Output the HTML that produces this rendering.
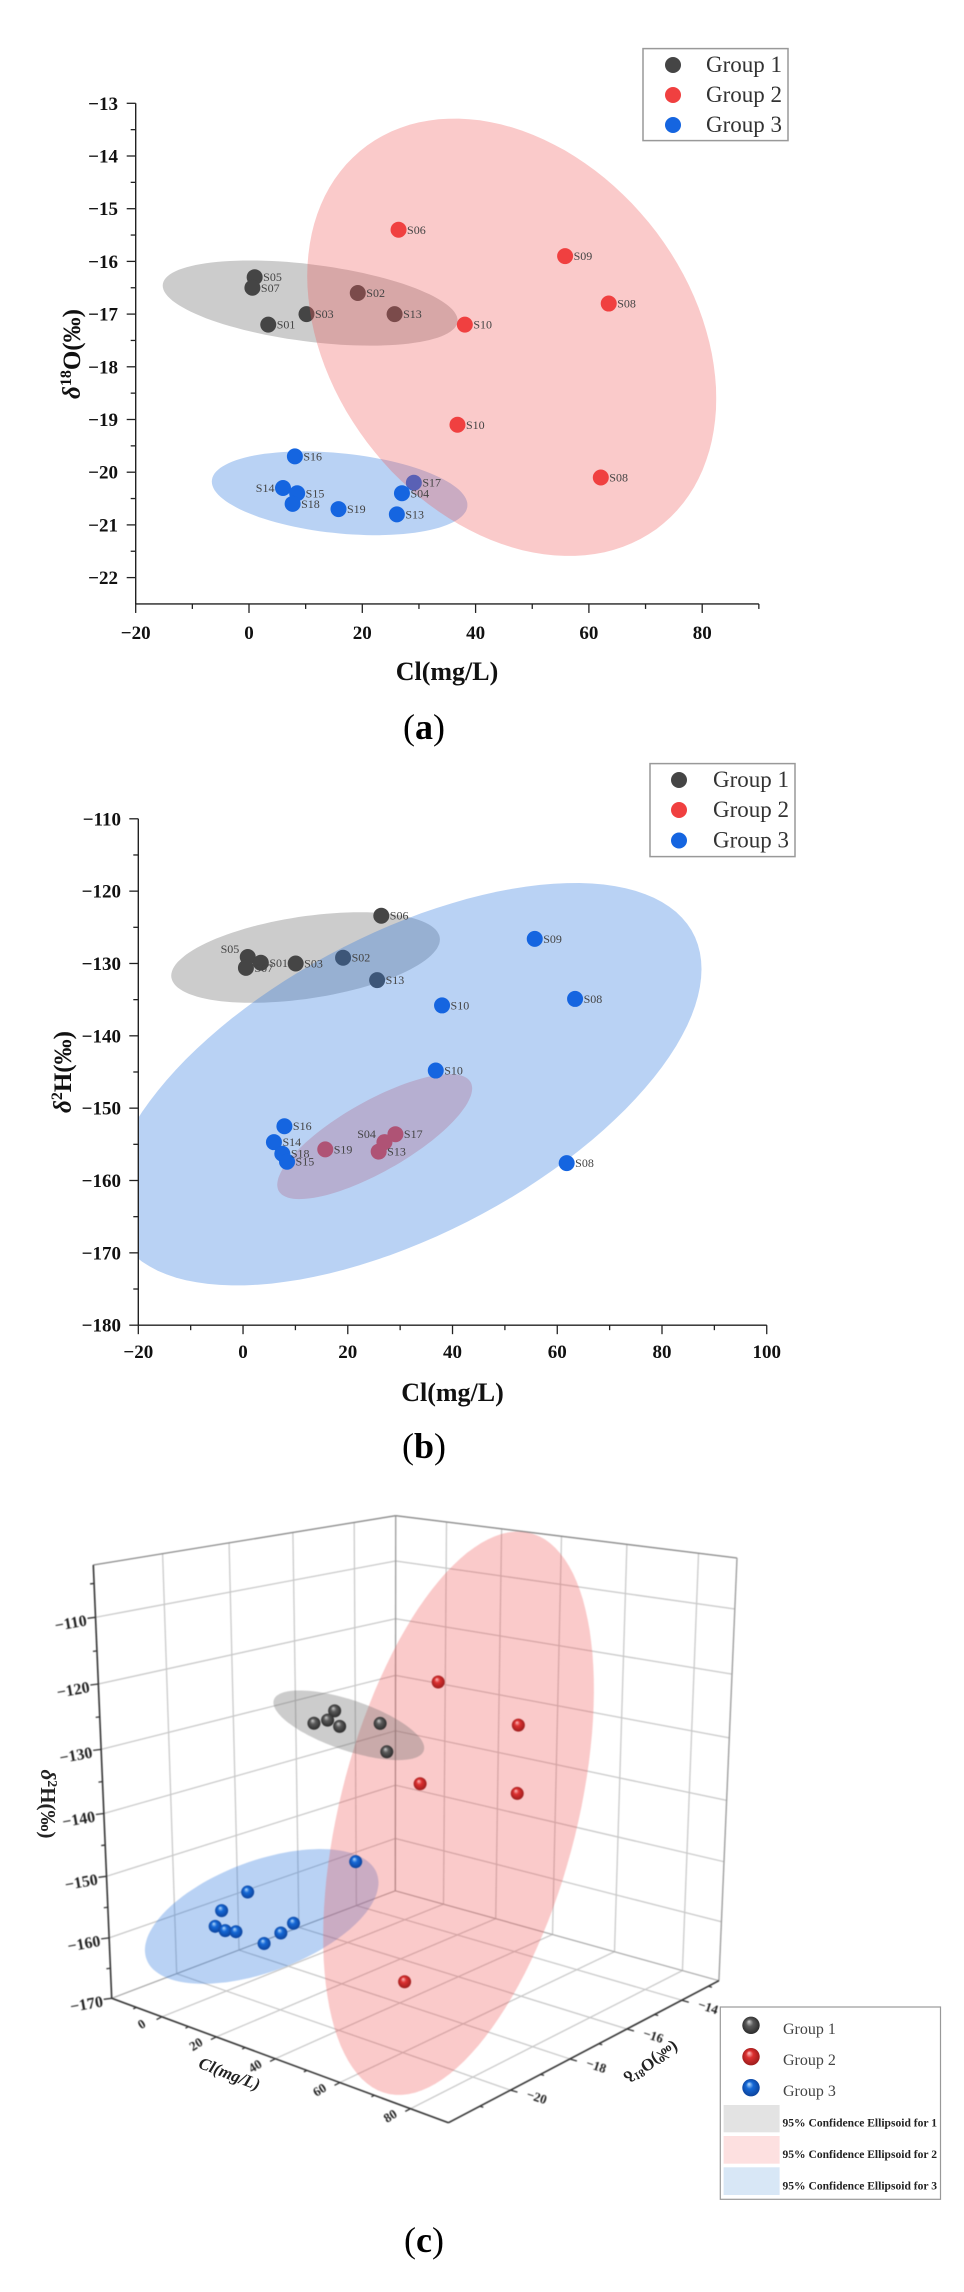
<!DOCTYPE html>
<html lang="en">
<head>
<meta charset="utf-8">
<title>Isotope scatter charts with confidence ellipses</title>
<style>
html,body{margin:0;padding:0;background:#fff;}
svg{display:block;font-family:"Liberation Serif","DejaVu Serif",serif;}
#panel-c{filter:blur(0.4px);}
</style>
</head>
<body>
<svg id="figure" xmlns="http://www.w3.org/2000/svg" width="964" height="2292" viewBox="0 0 964 2292">
  <defs>
    <clipPath id="clip-b"><rect x="138.3" y="790" width="640" height="535"/></clipPath>
    <radialGradient id="sphere-grey" cx="50%" cy="50%" r="55%" fx="38%" fy="28%">
      <stop offset="0" stop-color="#d0d0d0"/><stop offset="0.38" stop-color="#5a5a5a"/><stop offset="1" stop-color="#262626"/>
    </radialGradient>
    <radialGradient id="sphere-red" cx="50%" cy="50%" r="55%" fx="38%" fy="28%">
      <stop offset="0" stop-color="#ffc4c4"/><stop offset="0.38" stop-color="#dc3030"/><stop offset="1" stop-color="#961a1a"/>
    </radialGradient>
    <radialGradient id="sphere-blue" cx="50%" cy="50%" r="55%" fx="38%" fy="28%">
      <stop offset="0" stop-color="#bce0ff"/><stop offset="0.38" stop-color="#1568d6"/><stop offset="1" stop-color="#0b3f96"/>
    </radialGradient>
  </defs>

  <g id="panel-a"></g>
  <text x="447" y="680" text-anchor="middle" font-size="26" font-weight="bold" fill="#111">Cl(mg/L)</text>
  <text transform="translate(80,354) rotate(-90)" text-anchor="middle" font-size="25" font-weight="bold" fill="#111"><tspan font-style="italic">δ</tspan><tspan dy="-9" font-size="16">18</tspan><tspan dy="9">O(‰)</tspan></text>
  <g>
    <rect x="643" y="48.6" width="145" height="92" fill="#fff" stroke="#999" stroke-width="1.5"/>
    <circle cx="673" cy="65" r="8" fill="#454545"/>
    <circle cx="673" cy="95" r="8" fill="#f04040"/>
    <circle cx="673" cy="125" r="8" fill="#1565e0"/>
    <text x="706" y="72" font-size="23" fill="#333">Group 1</text>
    <text x="706" y="102" font-size="23" fill="#333">Group 2</text>
    <text x="706" y="132" font-size="23" fill="#333">Group 3</text>
  </g>
  <text x="424" y="739" text-anchor="middle" font-size="36" fill="#000">(<tspan font-weight="bold">a</tspan>)</text>

  <g id="panel-b"></g>
  <text x="452.5" y="1401" text-anchor="middle" font-size="26" font-weight="bold" fill="#111">Cl(mg/L)</text>
  <text transform="translate(71,1072) rotate(-90)" text-anchor="middle" font-size="25" font-weight="bold" fill="#111"><tspan font-style="italic">δ</tspan><tspan dy="-9" font-size="16">2</tspan><tspan dy="9">H(‰)</tspan></text>
  <g>
    <rect x="650" y="763.6" width="145" height="93" fill="#fff" stroke="#999" stroke-width="1.5"/>
    <circle cx="679" cy="780" r="8" fill="#454545"/>
    <circle cx="679" cy="810" r="8" fill="#f04040"/>
    <circle cx="679" cy="840.5" r="8" fill="#1565e0"/>
    <text x="713" y="787" font-size="23" fill="#333">Group 1</text>
    <text x="713" y="817" font-size="23" fill="#333">Group 2</text>
    <text x="713" y="847.5" font-size="23" fill="#333">Group 3</text>
  </g>
  <text x="424" y="1458" text-anchor="middle" font-size="36" fill="#000">(<tspan font-weight="bold">b</tspan>)</text>

  <g id="panel-c"></g>
  <text transform="translate(227.5,2079) rotate(21)" text-anchor="middle" font-size="17" font-weight="bold" font-style="italic" fill="#222">Cl(mg/L)</text>
  <text transform="translate(651,2062) rotate(-32) scale(1,-1)" text-anchor="middle" dy="5" font-size="17" font-weight="bold" fill="#222"><tspan font-style="italic">δ</tspan><tspan dy="-6" font-size="11">18</tspan><tspan dy="6">O(‰)</tspan></text>
  <text transform="translate(41,1804) rotate(90)" text-anchor="middle" font-size="21" font-weight="bold" fill="#222"><tspan font-style="italic">δ</tspan><tspan dy="-7" font-size="14">2</tspan><tspan dy="7">H(‰)</tspan></text>
  <g>
    <rect x="720.3" y="2007" width="220.2" height="192.3" fill="#fff" stroke="#999" stroke-width="1.2"/>
    <circle cx="751" cy="2025.3" r="8.7" fill="url(#sphere-grey)"/>
    <circle cx="751" cy="2056.7" r="8.7" fill="url(#sphere-red)"/>
    <circle cx="751" cy="2087.7" r="8.7" fill="url(#sphere-blue)"/>
    <text x="783" y="2034" font-size="16" fill="#444">Group 1</text>
    <text x="783" y="2065" font-size="16" fill="#444">Group 2</text>
    <text x="783" y="2096" font-size="16" fill="#444">Group 3</text>
    <rect x="723.6" y="2105" width="56" height="27.3" fill="#e3e3e3"/>
    <rect x="723.6" y="2136" width="56" height="27.7" fill="#fde0e0"/>
    <rect x="723.6" y="2167.3" width="56" height="27.7" fill="#d8e7f6"/>
    <text x="782.5" y="2126.7" font-size="11.5" font-weight="bold" fill="#222" textLength="154.5" lengthAdjust="spacingAndGlyphs">95% Confidence Ellipsoid for 1</text>
    <text x="782.5" y="2158" font-size="11.5" font-weight="bold" fill="#222" textLength="154.5" lengthAdjust="spacingAndGlyphs">95% Confidence Ellipsoid for 2</text>
    <text x="782.5" y="2189.3" font-size="11.5" font-weight="bold" fill="#222" textLength="154.5" lengthAdjust="spacingAndGlyphs">95% Confidence Ellipsoid for 3</text>
  </g>
  <text x="424" y="2252" text-anchor="middle" font-size="36" fill="#000">(<tspan font-weight="bold">c</tspan>)</text>
</svg>

<script>
// ---------- Panel A data: Cl vs delta-18O ----------
const aXTicks = [-20, 0, 20, 40, 60, 80];
const aXMinor = [-10, 10, 30, 50, 70, 90];
const aYTicks = [-13, -14, -15, -16, -17, -18, -19, -20, -21, -22];
const aYMinor = [-13.5, -14.5, -15.5, -16.5, -17.5, -18.5, -19.5, -20.5, -21.5];
const aNames1 = ['S05', 'S07', 'S01', 'S03', 'S02', 'S13'];
const aCl1 = [1.0, 0.6, 3.4, 10.15, 19.2, 25.7];
const aO1 = [-16.3, -16.5, -17.2, -17.0, -16.6, -17.0];
const aSide1 = ['r', 'r', 'r', 'r', 'r', 'r'];
const aNames2 = ['S06', 'S09', 'S08', 'S10', 'S10', 'S08'];
const aCl2 = [26.4, 55.8, 63.5, 38.1, 36.8, 62.1];
const aO2 = [-15.4, -15.9, -16.8, -17.2, -19.1, -20.1];
const aSide2 = ['r', 'r', 'r', 'r', 'r', 'r'];
const aNames3 = ['S16', 'S14', 'S15', 'S18', 'S19', 'S13', 'S04', 'S17'];
const aCl3 = [8.1, 6.0, 8.5, 7.7, 15.8, 26.1, 27.0, 29.1];
const aO3 = [-19.7, -20.3, -20.4, -20.6, -20.7, -20.8, -20.4, -20.2];
const aSide3 = ['r', 'l', 'r', 'r', 'r', 'r', 'r', 'r'];
// ellipse values: centre x, centre y, half-range x, half-range y, correlation
const aEllipse1 = [10.8, -16.79, 26.03, 0.808, -0.41];
const aEllipse2 = [46.38, -17.44, 36.1, 4.15, -0.28];
const aEllipse3 = [16.0, -20.4, 22.56, 0.795, -0.28];

// ---------- Panel B data: Cl vs delta-2H ----------
const bXTicks = [-20, 0, 20, 40, 60, 80, 100];
const bXMinor = [-10, 10, 30, 50, 70, 90];
const bYTicks = [-110, -120, -130, -140, -150, -160, -170, -180];
const bYMinor = [-115, -125, -135, -145, -155, -165, -175];
const bNames1 = ['S06', 'S05', 'S01', 'S07', 'S03', 'S02', 'S13'];
const bCl1 = [26.4, 0.9, 3.4, 0.55, 10.05, 19.1, 25.6];
const bH1 = [-123.4, -129.1, -129.9, -130.6, -130.0, -129.2, -132.3];
const bSide1 = ['r', 'lu', 'r', 'r', 'r', 'r', 'r'];
const bNames2 = ['S19', 'S04', 'S17', 'S13'];
const bCl2 = [15.7, 27.0, 29.1, 25.9];
const bH2 = [-155.7, -154.7, -153.6, -156.0];
const bSide2 = ['r', 'lu', 'r', 'r'];
const bNames3 = ['S09', 'S08', 'S10', 'S10', 'S08', 'S16', 'S14', 'S18', 'S15'];
const bCl3 = [55.7, 63.4, 38.0, 36.8, 61.8, 7.9, 5.9, 7.5, 8.4];
const bH3 = [-126.6, -134.9, -135.8, -144.8, -157.6, -152.5, -154.7, -156.3, -157.4];
const bSide3 = ['r', 'r', 'r', 'r', 'r', 'r', 'r', 'r', 'r'];
const bEllipse1 = [11.94, -129.18, 25.65, 6.26, 0.4];
const bEllipse2 = [25.14, -153.93, 18.61, 8.64, 0.77];
const bEllipse3 = [31.07, -146.69, 56.48, 27.82, 0.572];

// ---------- Panel C data: Cl, delta-18O, delta-2H (read from the 3D view) ----------
const cClTicks = [0, 20, 40, 60, 80];
const cClMinor = [-10, 10, 30, 50, 70];
const cOTicks = [-20, -18, -16, -14];
const cOMinor = [-21, -19, -17, -15, -13];
const cHTicks = [-110, -120, -130, -140, -150, -160, -170];
const cHMinor = [-105, -115, -125, -135, -145, -155, -165];
const cCl1 = [1.8, 9.05, -0.8, -1.2, 19.2, 25.7];
const cO1 = [-17.2, -17.0, -16.3, -16.5, -16.6, -17.0];
const cH1 = [-130.1, -130.15, -129.55, -130.85, -129.2, -132.5];
const cCl2 = [26.8, 57.1, 64.8, 38.8, 61.5];
const cO2 = [-15.4, -15.9, -16.8, -17.2, -20.1];
const cH2 = [-123.4, -126.45, -134.75, -135.8, -158.3];
const cCl3 = [36.8, 5.4, 2.7, 3.8, 5.1, 12.7, 23.8, 25.2, 27.4];
const cO3 = [-19.1, -19.7, -20.3, -20.6, -20.4, -20.7, -20.8, -20.4, -20.2];
const cH3 = [-145.2, -153.3, -155.6, -157.45, -158.35, -156.85, -156.9, -155.8, -154.3];
// ellipsoid outlines: centre, then two semi-axis vectors, all [Cl, O, H]
const cCentre1 = [10.16, -16.8, -130.14];
const cAxisA1 = [27.44, 0, -0.9];
const cAxisB1 = [0, 0, -4.31];
const cCentre2 = [53.7, -17.5, -138.1];
const cAxisA2 = [40.73, 0, 24.3];
const cAxisB2 = [0, 0, 39.94];
const cCentre3 = [17.44, -20.3, -154.46];
const cAxisA3 = [41.96, 0, 11.58];
const cAxisB3 = [0, 0, 9.35];

// ---------- helpers ----------
const NS = 'http://www.w3.org/2000/svg';
const GREY = '#454545', RED = '#f04040', BLUE = '#1565e0';
const FILL_GREY = 'rgba(110,110,110,0.35)';
const FILL_RED = 'rgba(239,87,87,0.316)';
const FILL_BLUE = 'rgba(47,122,222,0.337)';
function mk(tag, attrs, parent) {
  const el = document.createElementNS(NS, tag);
  for (const k in attrs) el.setAttribute(k, attrs[k]);
  parent.appendChild(el);
  return el;
}
function fmt(v) { return String(v).replace('-', '\u2212'); }
function ellipsePoints(e, xs, ys) {
  const pts = [];
  const q = Math.sqrt(1 - e[4] * e[4]);
  for (let i = 0; i < 120; i++) {
    const t = i / 120 * Math.PI * 2;
    const x = e[0] + e[2] * Math.cos(t);
    const y = e[1] + e[3] * (e[4] * Math.cos(t) + q * Math.sin(t));
    pts.push(xs(x).toFixed(1) + ',' + ys(y).toFixed(1));
  }
  return pts.join(' ');
}
function drawEllipse2D(parent, e, xs, ys, fill, name, clip) {
  const el = mk('polygon', { points: ellipsePoints(e, xs, ys), fill: fill }, parent);
  if (clip) el.setAttribute('clip-path', clip);
  
  
}
function drawDots(parent, xv, yv, names, sides, xs, ys, color, groupName) {
  xv.forEach(function (v, i) {
    const px = xs(v), py = ys(yv[i]);
    const dot = mk('circle', { cx: px, cy: py, r: 8, fill: color }, parent);
    
    
  });
}
function drawDotLabels(parent, xv, yv, names, sides, xs, ys, groupName) {
  xv.forEach(function (v, i) {
    const px = xs(v), py = ys(yv[i]);
    const side = sides[i];
    const lx = side === 'r' ? px + 8.5 : px - 8.5;
    const ly = side === 'lu' ? py - 4 : py + 4;
    const label = mk('text', { x: lx, y: ly, 'font-size': 12, fill: '#444', 'text-anchor': side === 'r' ? 'start' : 'end' }, parent);
    label.textContent = names[i];
    
    
  });
}
function drawAxes2D(parent, xs, ys, xTicks, xMinor, yTicks, yMinor, xEnd, yEnd, yTop, xBase, yRight) {
  const ax = mk('line', { x1: xs(xTicks[0]), y1: ys(yEnd), x2: xs(xEnd), y2: ys(yEnd), stroke: '#222', 'stroke-width': 1.4 }, parent);
  
  
  const ay = mk('line', { x1: xs(xTicks[0]), y1: ys(yTop), x2: xs(xTicks[0]), y2: ys(yEnd), stroke: '#222', 'stroke-width': 1.4 }, parent);
  
  
  xTicks.forEach(function (v) {
    const t = mk('line', { x1: xs(v), y1: ys(yEnd), x2: xs(v), y2: ys(yEnd) + 9, stroke: '#222', 'stroke-width': 1.3 }, parent);
    
    
    const l = mk('text', { x: xs(v), y: xBase, 'text-anchor': 'middle', 'font-size': 19, 'font-weight': 'bold', fill: '#111' }, parent);
    l.textContent = fmt(v);
    
    
  });
  xMinor.forEach(function (v) {
    const t = mk('line', { x1: xs(v), y1: ys(yEnd), x2: xs(v), y2: ys(yEnd) + 5, stroke: '#222', 'stroke-width': 1.3 }, parent);
    
    
  });
  yTicks.forEach(function (v) {
    const x0 = xs(xTicks[0]);
    const t = mk('line', { x1: x0, y1: ys(v), x2: x0 - 9, y2: ys(v), stroke: '#222', 'stroke-width': 1.3 }, parent);
    
    
    const l = mk('text', { x: yRight, y: ys(v) + 6.5, 'text-anchor': 'end', 'font-size': 19, 'font-weight': 'bold', fill: '#111' }, parent);
    l.textContent = fmt(v);
    
    
  });
  yMinor.forEach(function (v) {
    const x0 = xs(xTicks[0]);
    const t = mk('line', { x1: x0, y1: ys(v), x2: x0 - 5, y2: ys(v), stroke: '#222', 'stroke-width': 1.3 }, parent);
    
    
  });
}

// ---------- Panel A ----------
(function () {
  const g = document.getElementById('panel-a');
  const xs = function (v) { return 135.7 + (v + 20) * 5.665; };
  const ys = function (v) { return 103.3 + (-13 - v) * 52.7; };
  drawEllipse2D(g, aEllipse1, xs, ys, FILL_GREY, 'ellipse-group-1');
  drawEllipse2D(g, aEllipse3, xs, ys, FILL_BLUE, 'ellipse-group-3');
  drawDots(g, aCl1, aO1, aNames1, aSide1, xs, ys, GREY, 'group-1');
  drawDots(g, aCl3, aO3, aNames3, aSide3, xs, ys, BLUE, 'group-3');
  drawEllipse2D(g, aEllipse2, xs, ys, FILL_RED, 'ellipse-group-2');
  drawDots(g, aCl2, aO2, aNames2, aSide2, xs, ys, RED, 'group-2');
  drawDotLabels(g, aCl1, aO1, aNames1, aSide1, xs, ys, 'group-1');
  drawDotLabels(g, aCl2, aO2, aNames2, aSide2, xs, ys, 'group-2');
  drawDotLabels(g, aCl3, aO3, aNames3, aSide3, xs, ys, 'group-3');
  drawAxes2D(g, xs, ys, aXTicks, aXMinor, aYTicks, aYMinor, 90, -22.5, -13, 639, 118);
})();

// ---------- Panel B ----------
(function () {
  const g = document.getElementById('panel-b');
  const xs = function (v) { return 138.3 + (v + 20) * 5.237; };
  const ys = function (v) { return 818.8 + (-110 - v) * 7.234; };
  drawEllipse2D(g, bEllipse1, xs, ys, FILL_GREY, 'ellipse-group-1');
  drawEllipse2D(g, bEllipse2, xs, ys, FILL_RED, 'ellipse-group-2');
  drawDots(g, bCl1, bH1, bNames1, bSide1, xs, ys, GREY, 'group-1');
  drawDots(g, bCl2, bH2, bNames2, bSide2, xs, ys, RED, 'group-2');
  drawEllipse2D(g, bEllipse3, xs, ys, FILL_BLUE, 'ellipse-group-3', 'url(#clip-b)');
  drawDots(g, bCl3, bH3, bNames3, bSide3, xs, ys, BLUE, 'group-3');
  drawDotLabels(g, bCl1, bH1, bNames1, bSide1, xs, ys, 'group-1');
  drawDotLabels(g, bCl2, bH2, bNames2, bSide2, xs, ys, 'group-2');
  drawDotLabels(g, bCl3, bH3, bNames3, bSide3, xs, ys, 'group-3');
  drawAxes2D(g, xs, ys, bXTicks, bXMinor, bYTicks, bYMinor, 100, -180, -110, 1358, 121);
})();

// ---------- Panel C ----------
(function () {
  const g = document.getElementById('panel-c');
  const CL_MIN = -20, CL_MAX = 90, O_MIN = -22, O_MAX = -12.6, H_MIN = -170, H_MAX = -102.3;
  const floorL = [111.7, 1998.3], floorF = [448.5, 2122.7], floorR = [718.9, 1980.7], floorB = [395.3, 1890.8];
  const topL = [93.3, 1565], topF = [450, 1642], topR = [737, 1558], topB = [395.7, 1515.7];
  function bilerp(a, b, c, d, s, r) {
    const x0 = a[0] + s * (b[0] - a[0]), y0 = a[1] + s * (b[1] - a[1]);
    const x1 = d[0] + s * (c[0] - d[0]), y1 = d[1] + s * (c[1] - d[1]);
    return [x0 + r * (x1 - x0), y0 + r * (y1 - y0)];
  }
  function proj(cl, o, h) {
    const u = (cl - CL_MIN) / (CL_MAX - CL_MIN);
    const v = (o - O_MIN) / (O_MAX - O_MIN);
    const w = (h - H_MIN) / (H_MAX - H_MIN);
    const t = u / (1 + 0.27 * (1 - u));
    const r = v * 1.1 / (1 + 0.1 * v);
    const q = w / (1 + 0.07 * (1 - w));
    const bot = bilerp(floorL, floorF, floorR, floorB, t, r);
    const top = bilerp(topL, topF, topR, topB, t, r);
    return [bot[0] + q * (top[0] - bot[0]), bot[1] + q * (top[1] - bot[1])];
  }
  function seg(p, q, stroke, width, name) {
    const el = mk('line', { x1: p[0], y1: p[1], x2: q[0], y2: q[1], stroke: stroke, 'stroke-width': width }, g);
    
    
    return el;
  }
  const GRID = '#c8c8c8';
  const GW = 1.25;
  cClTicks.forEach(function (c) {
    seg(proj(c, O_MIN, H_MIN), proj(c, O_MAX, H_MIN), GRID, GW, 'floor-grid-line-cl');
    seg(proj(c, O_MAX, H_MIN), proj(c, O_MAX, H_MAX), GRID, GW, 'back-wall-grid-line-cl');
  });
  cOTicks.forEach(function (o) {
    seg(proj(CL_MIN, o, H_MIN), proj(CL_MAX, o, H_MIN), GRID, GW, 'floor-grid-line-o');
    seg(proj(CL_MIN, o, H_MIN), proj(CL_MIN, o, H_MAX), GRID, GW, 'side-wall-grid-line-o');
  });
  cHTicks.forEach(function (h) {
    if (h === H_MIN) return;
    seg(proj(CL_MIN, O_MIN, h), proj(CL_MIN, O_MAX, h), GRID, GW, 'side-wall-grid-line-h');
    seg(proj(CL_MIN, O_MAX, h), proj(CL_MAX, O_MAX, h), GRID, GW, 'back-wall-grid-line-h');
  });
  // box edges
  seg(floorL, floorB, '#aaa', 1.2, 'box-edge');
  seg(floorB, floorR, '#aaa', 1.2, 'box-edge');
  seg(floorB, topB, '#999', 1.3, 'box-edge');
  seg(topL, topB, '#888', 1.3, 'box-edge');
  seg(topB, topR, '#888', 1.3, 'box-edge');
  seg(topR, floorR, '#999', 1.3, 'box-edge');

  // Ellipsoid outline: centre goes through the axis projection, semi-axes through its local slopes
  function drawEllipsoid(c, a, b, fill, name) {
    const base = proj(c[0], c[1], c[2]);
    const dCl = proj(c[0] + 0.5, c[1], c[2]);
    const dO = proj(c[0], c[1] + 0.05, c[2]);
    const dH = proj(c[0], c[1], c[2] + 0.5);
    const jx = [(dCl[0] - base[0]) / 0.5, (dO[0] - base[0]) / 0.05, (dH[0] - base[0]) / 0.5];
    const jy = [(dCl[1] - base[1]) / 0.5, (dO[1] - base[1]) / 0.05, (dH[1] - base[1]) / 0.5];
    const pts = [];
    for (let i = 0; i < 120; i++) {
      const t = i / 120 * Math.PI * 2;
      let x = base[0], y = base[1];
      for (let k = 0; k < 3; k++) {
        const d = a[k] * Math.cos(t) + b[k] * Math.sin(t);
        x += jx[k] * d;
        y += jy[k] * d;
      }
      pts.push(x.toFixed(1) + ',' + y.toFixed(1));
    }
    const el = mk('polygon', { points: pts.join(' '), fill: fill }, g);
    
    
  }
  drawEllipsoid(cCentre3, cAxisA3, cAxisB3, FILL_BLUE, 'ellipsoid-group-3');
  drawEllipsoid(cCentre2, cAxisA2, cAxisB2, FILL_RED, 'ellipsoid-group-2');
  drawEllipsoid(cCentre1, cAxisA1, cAxisB1, FILL_GREY, 'ellipsoid-group-1');

  // main axes
  seg(floorL, topL, '#333', 1.6, 'z-axis-line');
  seg(floorL, floorF, '#333', 1.6, 'cl-axis-line');
  seg(floorF, floorR, '#333', 1.6, 'o-axis-line');

  cHTicks.forEach(function (h) {
    const p = proj(CL_MIN, O_MIN, h);
    seg(p, [p[0] - 8, p[1] + 1], '#333', 1.3, 'z-major-tick');
    const l = mk('text', { transform: 'translate(' + (p[0] - 8) + ',' + (p[1] + 8) + ') rotate(-10)', 'text-anchor': 'end', 'font-size': 16, 'font-weight': 'bold', fill: '#222' }, g);
    l.textContent = fmt(h);
    
    
  });
  cHMinor.forEach(function (h) {
    const p = proj(CL_MIN, O_MIN, h);
    seg(p, [p[0] - 4, p[1] + 0.5], '#333', 1.3, 'z-minor-tick');
  });
  cClTicks.forEach(function (c) {
    const p = proj(c, O_MIN, H_MIN);
    seg(p, [p[0] - 5.3, p[1] + 2.7], '#333', 1.3, 'cl-major-tick');
    const l = mk('text', { transform: 'translate(' + (p[0] - 18) + ',' + (p[1] + 11) + ') rotate(-32)', 'text-anchor': 'middle', 'font-size': 13, 'font-weight': 'bold', fill: '#222' }, g);
    l.textContent = fmt(c);
    
    
  });
  cClMinor.forEach(function (c) {
    const p = proj(c, O_MIN, H_MIN);
    seg(p, [p[0] - 3, p[1] + 1.5], '#333', 1.3, 'cl-minor-tick');
  });
  cOTicks.forEach(function (o) {
    const p = proj(CL_MAX, o, H_MIN);
    seg(p, [p[0] + 7, p[1] + 2], '#333', 1.3, 'o-major-tick');
    const l = mk('text', { transform: 'translate(' + (p[0] + 25) + ',' + (p[1] + 11) + ') rotate(18)', 'text-anchor': 'middle', 'font-size': 13, 'font-weight': 'bold', fill: '#222' }, g);
    l.textContent = fmt(o);
    
    
  });
  cOMinor.forEach(function (o) {
    const p = proj(CL_MAX, o, H_MIN);
    seg(p, [p[0] + 3.5, p[1] + 1], '#333', 1.3, 'o-minor-tick');
  });

  function drawSpheres(cl, o, h, grad, name) {
    cl.forEach(function (v, i) {
      const p = proj(v, o[i], h[i]);
      const s = mk('circle', { cx: p[0], cy: p[1], r: 6.5, fill: grad }, g);
      
      
    });
  }
  drawSpheres(cCl1, cO1, cH1, 'url(#sphere-grey)', 'group-1-sphere');
  drawSpheres(cCl2, cO2, cH2, 'url(#sphere-red)', 'group-2-sphere');
  drawSpheres(cCl3, cO3, cH3, 'url(#sphere-blue)', 'group-3-sphere');
})();
</script>
</body>
</html>
